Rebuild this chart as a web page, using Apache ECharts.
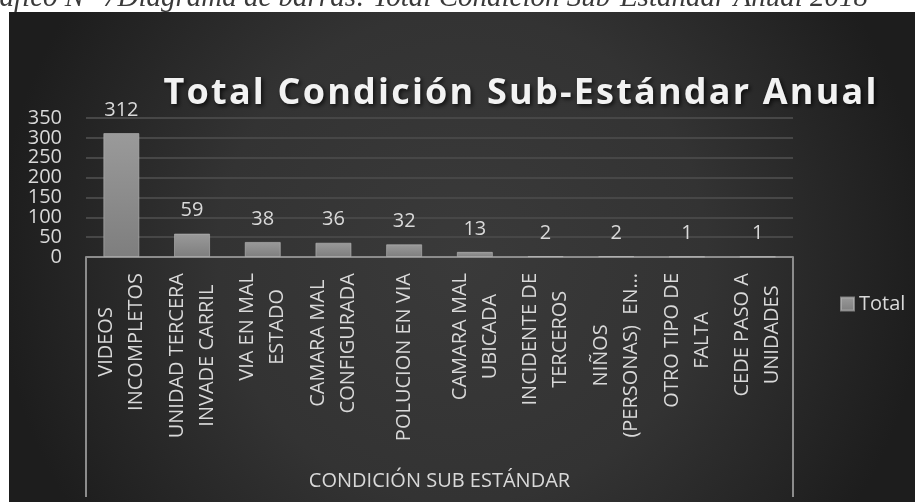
<!DOCTYPE html>
<html>
<head>
<meta charset="utf-8">
<script src="https://cdn.jsdelivr.net/npm/echarts@6/dist/echarts.min.js"></script>
<style>
  html, body { margin: 0; padding: 0; background: #fff; }
  #chart { width: 915px; height: 502px; }
</style>
</head>
<body>
<div id="chart"></div>
<script>
var categories = [
	'VIDEOS\nINCOMPLETOS',
	'UNIDAD TERCERA\nINVADE CARRIL',
	'VIA EN MAL\nESTADO',
	'CAMARA MAL\nCONFIGURADA',
	'POLUCION EN VIA',
	'CAMARA MAL\nUBICADA',
	'INCIDENTE DE\nTERCEROS',
	'NIÑOS\n(PERSONAS)  EN…',
	'OTRO TIPO DE\nFALTA',
	'CEDE PASO A\nUNIDADES'
];
var totals = [312, 59, 38, 36, 32, 13, 2, 2, 1, 1];
var groupLabel = ['CONDICIÓN SUB ESTÁNDAR'];
var seriesName = 'Total';
var chartTitle = 'Total Condición Sub-Estándar Anual';
var caption = 'Gráfico N° 7Diagrama de barras: Total Condición Sub-Estándar Anual 2018';

var textColor = '#d9d9d9';
var font = '"Open Sans", sans-serif';

// spaced out title: one rich token per character
function spaced(str) {
	return str.split('').map(function (ch) { return '{t|' + ch + '}'; }).join('');
}
// centre every line of a wrapped category label
function centredLines(str) {
	return str.split('\n').map(function (s) { return '{c|' + s + '}'; }).join('\n');
}

var chart = echarts.init(document.getElementById('chart'), null, { renderer: 'canvas' });

chart.setOption({
	backgroundColor: '#ffffff',
	animation: false,
	graphic: [
		{
			type: 'rect',
			z: -10,
			shape: { x: 9, y: 12, width: 906, height: 490 },
			style: {
				fill: {
					type: 'radial', x: 0.5, y: 0.5, r: 1,
					colorStops: [
						{ offset: 0, color: '#3a3a3a' },
						{ offset: 0.5, color: '#333333' },
						{ offset: 0.95, color: '#1d1d1d' }
					]
				}
			}
		},
		{
			type: 'text',
			z: -20,
			x: 868,
			y: -16,
			style: {
				text: caption,
				align: 'right',
				verticalAlign: 'top',
				fontStyle: 'italic',
				fontSize: 29,
				fontFamily: '"Liberation Serif", "Times New Roman", serif',
				fill: '#3a3a3a'
			}
		}
	],
	title: {
		text: spaced(chartTitle),
		left: 515,
		top: 71,
		textAlign: 'center',
		textStyle: {
			color: '#f2f2f2',
			fontFamily: font,
			fontWeight: 'bold',
			fontSize: 36,
			textShadowColor: 'rgba(0,0,0,0.7)',
			textShadowBlur: 4,
			textShadowOffsetX: 2,
			textShadowOffsetY: 2,
			rich: {
				t: {
					color: '#f2f2f2',
					fontFamily: font,
					fontWeight: 'bold',
					fontSize: 36,
					padding: [0, 1.1],
					textShadowColor: 'rgba(0,0,0,0.7)',
					textShadowBlur: 4,
					textShadowOffsetX: 2,
					textShadowOffsetY: 2
				}
			}
		}
	},
	legend: {
		data: [seriesName],
		left: 835,
		top: 289,
		icon: 'rect',
		itemWidth: 13,
		itemHeight: 13,
		textStyle: { color: textColor, fontFamily: font, fontSize: 20 }
	},
	grid: { left: 86, right: 122, top: 118, bottom: 245, containLabel: false },
	xAxis: [
		{
			type: 'category',
			data: categories,
			axisLine: { show: true, lineStyle: { color: '#8c8c8c', width: 2 } },
			axisTick: { show: false },
			axisLabel: {
				interval: 0,
				rotate: 90,
				margin: 16,
				color: textColor,
				fontFamily: font,
				fontSize: 20,
				lineHeight: 30,
				formatter: centredLines,
				rich: {
					c: { align: 'center', color: textColor, fontFamily: font, fontSize: 20, lineHeight: 30 }
				}
			}
		},
		{
			type: 'category',
			position: 'bottom',
			data: groupLabel,
			axisLine: { show: false },
			axisTick: { show: true, length: 240, lineStyle: { color: '#8c8c8c', width: 2 } },
			axisLabel: {
				margin: 214,
				color: textColor,
				fontFamily: font,
				fontSize: 20
			}
		}
	],
	yAxis: {
		type: 'value',
		min: 0,
		max: 350,
		interval: 50,
		axisLine: { show: false },
		axisTick: { show: false },
		splitLine: { lineStyle: { color: '#474747', width: 2 } },
		axisLabel: {
			margin: 24,
			color: textColor,
			fontFamily: font,
			fontSize: 20
		}
	},
	series: [
		{
			name: seriesName,
			type: 'bar',
			xAxisIndex: 0,
			data: totals,
			barCategoryGap: '49%',
			itemStyle: {
				color: {
					type: 'linear', x: 0, y: 0, x2: 0, y2: 1,
					colorStops: [
						{ offset: 0, color: '#9a9a9a' },
						{ offset: 1, color: '#7e7e7e' }
					]
				},
				borderColor: 'rgba(185,185,185,0.6)',
				borderWidth: 1
			},
			label: {
				show: true,
				position: 'top',
				distance: 13,
				color: textColor,
				fontFamily: font,
				fontSize: 20
			}
		}
	]
});
</script>
</body>
</html>
